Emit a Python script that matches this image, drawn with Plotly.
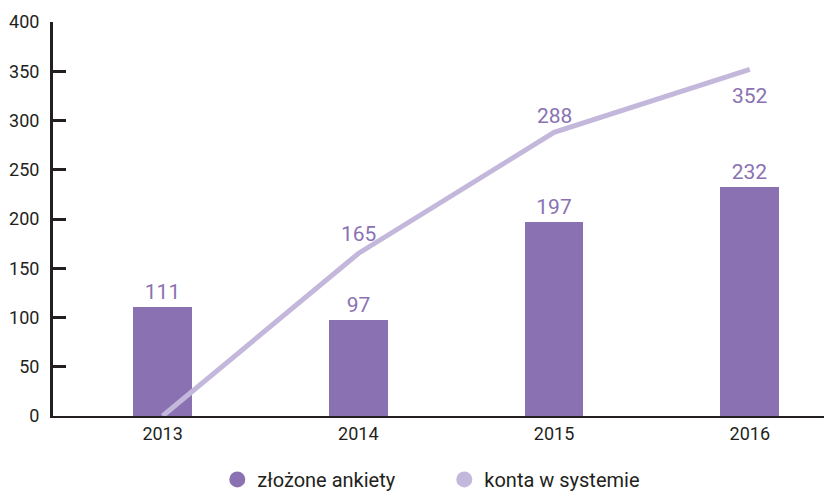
import plotly.graph_objects as go

years = ["2013", "2014", "2015", "2016"]
ankiety = [111, 97, 197, 232]
konta = [0, 165, 288, 352]
konta_labels = ["", "165", "288", "352"]
konta_shift = [0, 19, 16, -27]
y_ticks = [0, 50, 100, 150, 200, 250, 300, 350, 400]

BAR = "#8a72b2"
LINE = "#c3b7db"
DARK = "#231f20"
FONT = "Roboto"

# page body has an 8px default margin, so the figure is sized to fill the rest
W, H = 824, 484

fig = go.Figure()
fig.add_trace(go.Bar(
    x=years, y=ankiety, width=0.3, marker=dict(color=BAR, line=dict(width=0)),
    text=[str(v) for v in ankiety], textposition="outside",
    textfont=dict(color=BAR, size=21, family=FONT), cliponaxis=False,
    showlegend=False,
))
fig.add_trace(go.Scatter(
    x=years, y=konta, mode="lines", line=dict(color=LINE, width=5),
    cliponaxis=False, showlegend=False,
))
for i, (v, lab, sh) in enumerate(zip(konta, konta_labels, konta_shift)):
    if lab:
        fig.add_annotation(x=i, y=v, xref="x", yref="y", text=lab, showarrow=False,
                           yshift=sh, font=dict(color=BAR, size=21, family=FONT))
# legend entries with circular markers
fig.add_trace(go.Scatter(x=[None], y=[None], mode="markers", name="złożone ankiety",
                         marker=dict(color=BAR, size=18, symbol="circle")))
fig.add_trace(go.Scatter(x=[None], y=[None], mode="markers", name="konta w systemie",
                         marker=dict(color=LINE, size=18, symbol="circle")))

fig.update_layout(
    width=W, height=H,
    margin=dict(l=45, r=0, t=14, b=76, autoexpand=False),
    plot_bgcolor="white", paper_bgcolor="white",
    font=dict(family=FONT, color=DARK, size=18),
    bargap=0,
    legend=dict(orientation="h", xref="container", yref="container",
                x=0.254, xanchor="left", y=0.026, yanchor="middle",
                font=dict(size=20, color=DARK, family=FONT),
                entrywidth=182, entrywidthmode="pixels", itemsizing="trace"),
)
fig.update_xaxes(
    type="category", range=[-0.56, 3.42], showline=True, linecolor=DARK, linewidth=2,
    ticks="", showgrid=False, zeroline=False, tickfont=dict(size=18, color=DARK),
)
fig.update_yaxes(
    range=[0, 400], tickvals=y_ticks, showline=True, linecolor=DARK, linewidth=3,
    ticks="inside", ticklen=13, tickwidth=3, tickcolor=DARK, showgrid=False,
    zeroline=False, tickfont=dict(size=18, color=DARK), ticklabelstandoff=7,
)

fig.write_html("out.html")
